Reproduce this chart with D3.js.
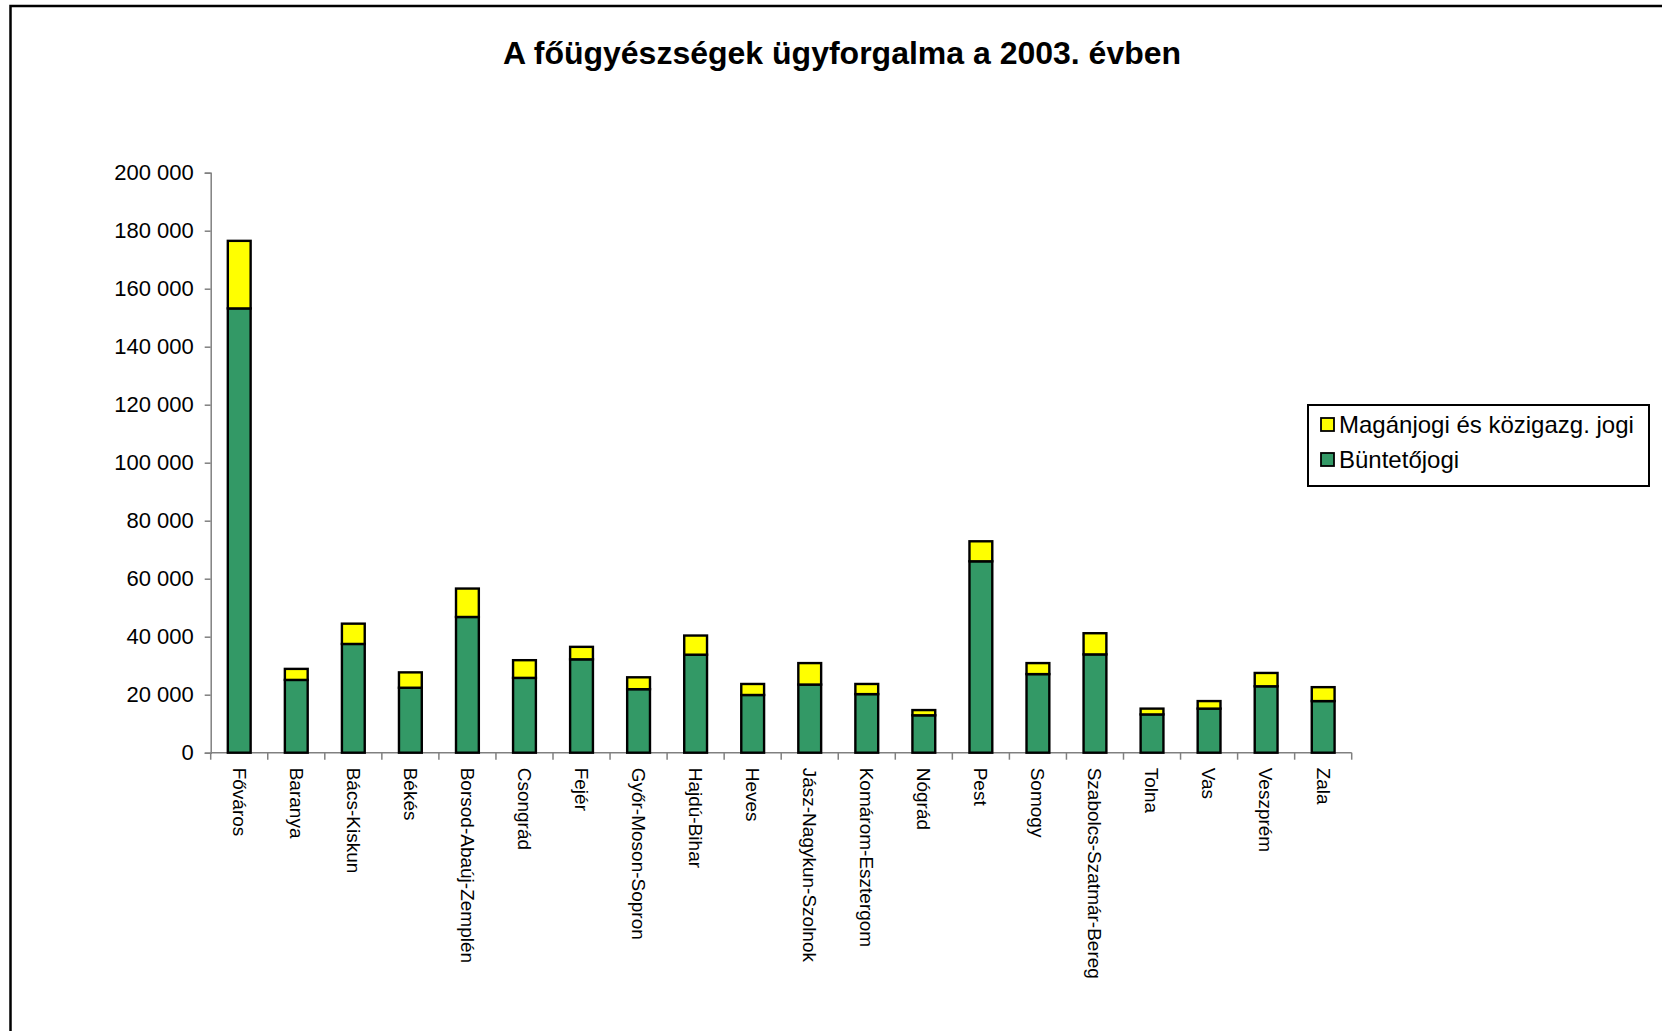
<!DOCTYPE html>
<html>
<head>
<meta charset="utf-8">
<script src="https://cdn.jsdelivr.net/npm/d3@7/dist/d3.min.js"></script>
<style>
  body { margin: 0; background: #fff; }
  svg { display: block; font-family: Arial, 'Liberation Sans', sans-serif; }
</style>
</head>
<body>
<svg id="chart" width="1662" height="1031"></svg>
<script>
'use strict';

var categories = ['Főváros', 'Baranya', 'Bács-Kiskun', 'Békés', 'Borsod-Abaúj-Zemplén',
  'Csongrád', 'Fejér', 'Győr-Moson-Sopron', 'Hajdú-Bihar', 'Heves', 'Jász-Nagykun-Szolnok',
  'Komárom-Esztergom', 'Nógrád', 'Pest', 'Somogy', 'Szabolcs-Szatmár-Bereg', 'Tolna',
  'Vas', 'Veszprém', 'Zala'];

// Büntetőjogi (bottom segment)
var buntetojogi = [153200, 25100, 37500, 22400, 46800, 25800, 32200, 21900, 33800, 19900,
  23500, 20200, 12900, 66000, 27100, 33900, 13200, 15200, 22900, 17800];

// Magánjogi és közigazg. jogi (top segment)
var maganjogi = [23300, 3800, 7000, 5300, 9800, 6100, 4300, 4100, 6600, 3800,
  7400, 3500, 1800, 6900, 3800, 7300, 2000, 2600, 4600, 4800];

var yTicks = [0, 20000, 40000, 60000, 80000, 100000, 120000, 140000, 160000, 180000, 200000];

var seriesNames = ['Magánjogi és közigazg. jogi', 'Büntetőjogi'];
var seriesColors = ['#ffff00', '#339966'];

var svg = d3.select('#chart');

// outer frame (left and top edges only visible)
svg.append('path')
  .attr('d', 'M10.5,1031 L10.5,6 L1662,6')
  .attr('fill', 'none')
  .attr('stroke', '#000')
  .attr('stroke-width', 2.5);

svg.append('text')
  .attr('x', 842)
  .attr('y', 64)
  .attr('text-anchor', 'middle')
  .style('font-size', '32px')
  .style('font-weight', 'bold')
  .text('A főügyészségek ügyforgalma a 2003. évben');

var x = d3.scaleBand()
  .domain(categories)
  .range([210.7, 1351.7])
  .padding(0);

var y = d3.scaleLinear()
  .domain([0, 200000])
  .range([752.7, 172.7]);

var rows = categories.map(function (c, i) {
  return { cat: c, bunt: buntetojogi[i], magan: maganjogi[i] };
});

var stack = d3.stack().keys(['bunt', 'magan'])(rows);
var fillFor = { bunt: seriesColors[1], magan: seriesColors[0] };

var barW = x.bandwidth() * 0.4;

// y axis
var yAxis = svg.append('g')
  .attr('transform', 'translate(210.7,0)')
  .call(d3.axisLeft(y)
    .tickValues(yTicks)
    .tickSize(6)
    .tickPadding(11)
    .tickFormat(function (d) { return d3.format(',')(d).replace(/,/g, ' '); }));

yAxis.select('.domain').attr('stroke', '#808080').attr('stroke-width', 1.5);
yAxis.selectAll('.tick line').attr('stroke', '#808080').attr('stroke-width', 1.5);
yAxis.selectAll('.tick text')
  .attr('fill', '#000')
  .style('font-size', '22px')
  .style('font-family', 'Arial, \'Liberation Sans\', sans-serif');

// x axis baseline and ticks at band boundaries
var xAxis = svg.append('g').attr('class', 'x-axis');

xAxis.append('line')
  .attr('x1', x.range()[0])
  .attr('x2', x.range()[1])
  .attr('y1', y(0))
  .attr('y2', y(0))
  .attr('stroke', '#808080')
  .attr('stroke-width', 1.5);

xAxis.selectAll('line.tick')
  .data(categories.concat(['end']))
  .enter()
  .append('line')
  .attr('class', 'tick')
  .attr('x1', function (d, i) { return x.range()[0] + i * x.step(); })
  .attr('x2', function (d, i) { return x.range()[0] + i * x.step(); })
  .attr('y1', y(0))
  .attr('y2', y(0) + 7)
  .attr('stroke', '#808080')
  .attr('stroke-width', 1.5);

xAxis.selectAll('text')
  .data(categories)
  .enter()
  .append('text')
  .attr('transform', function (d) {
    return 'translate(' + (x(d) + x.bandwidth() / 2) + ',' + (y(0) + 15) + ') rotate(90)';
  })
  .attr('dy', '0.35em')
  .attr('text-anchor', 'start')
  .style('font-size', '19px')
  .text(function (d) { return d; });

// bars
svg.append('g')
  .selectAll('g')
  .data(stack)
  .enter()
  .append('g')
  .attr('fill', function (s) { return fillFor[s.key]; })
  .selectAll('rect')
  .data(function (s) { return s; })
  .enter()
  .append('rect')
  .attr('x', function (d) { return x(d.data.cat) + (x.bandwidth() - barW) / 2; })
  .attr('y', function (d) { return y(d[1]); })
  .attr('width', barW)
  .attr('height', function (d) { return y(d[0]) - y(d[1]); })
  .attr('stroke', '#000')
  .attr('stroke-width', 2.4);

// legend
var legend = svg.append('g').attr('transform', 'translate(1308,405)');

legend.append('rect')
  .attr('width', 341)
  .attr('height', 81)
  .attr('fill', '#fff')
  .attr('stroke', '#000')
  .attr('stroke-width', 2);

var items = legend.selectAll('g.item')
  .data(seriesNames)
  .enter()
  .append('g')
  .attr('class', 'item')
  .attr('transform', function (d, i) { return 'translate(13,' + (13 + i * 35) + ')'; });

items.append('rect')
  .attr('width', 13)
  .attr('height', 13)
  .attr('fill', function (d, i) { return seriesColors[i]; })
  .attr('stroke', '#000')
  .attr('stroke-width', 1.8);

items.append('text')
  .attr('x', 18)
  .attr('y', 6.5)
  .attr('dy', '0.35em')
  .style('font-size', '24px')
  .text(function (d) { return d; });
</script>
</body>
</html>
